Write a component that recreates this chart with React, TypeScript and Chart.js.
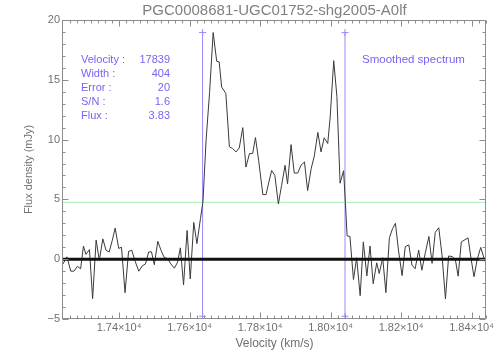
import React, { useEffect, useRef } from 'react';
import { Chart, registerables } from 'chart.js';

Chart.register(...registerables);

const titleText = 'PGC0008681-UGC01752-shg2005-A0lf';
const xTitle = 'Velocity (km/s)';
const yTitle = 'Flux density (mJy)';

const velocity = [
  17241, 17252, 17263, 17272, 17282, 17291, 17299, 17306, 17316, 17325,
  17335, 17344, 17354, 17363, 17372, 17381, 17389, 17399, 17407, 17417,
  17427, 17436, 17446, 17456, 17466, 17475, 17484, 17492, 17500, 17510,
  17519, 17528, 17538, 17547, 17557, 17566, 17574, 17583, 17593, 17602,
  17612, 17621, 17631, 17638, 17647, 17657, 17667, 17677, 17684, 17691,
  17703, 17713, 17722, 17732, 17741, 17751, 17760, 17770, 17779, 17787,
  17796, 17808, 17817, 17825, 17833, 17842, 17852, 17861, 17871, 17878,
  17888, 17897, 17907, 17916, 17926, 17935, 17945, 17954, 17964, 17973,
  17982, 17992, 17999, 18009, 18018, 18027, 18037, 18042, 18047, 18055,
  18065, 18074, 18084, 18093, 18103, 18112, 18121, 18131, 18138, 18148,
  18157, 18167, 18176, 18184, 18193, 18203, 18212, 18222, 18231, 18240,
  18250, 18259, 18269, 18279, 18288, 18297, 18307, 18316, 18326, 18335,
  18345, 18354, 18362, 18371, 18381, 18390, 18399, 18407, 18416, 18426,
  18435, 18441,
];

const flux = [
  -0.4, 0.2, -1.0, -1.0, -0.6, -0.8, 1.1, 0.4, 0.8, -3.3,
  1.6, -0.1, 1.7, 0.75, 0.6, 1.6, 2.6, 0.9, 1.0, -2.8,
  0.65, 0.75, -0.2, -1.0, -0.55, -0.4, 0.6, 0.62, -0.46, 1.5,
  0.75, 0.15, 0.04, -0.4, -0.75, -0.25, 0.95, -2.15, 2.4, -1.65,
  3.07, 1.3, 3.4, 4.8, 10.0, 14.0, 18.95, 16.55, 16.5, 14.4,
  13.85, 9.4, 9.25, 8.97, 9.3, 11.0, 7.7, 8.83, 8.83, 10.17,
  8.27, 5.4, 5.4, 6.45, 7.42, 7.0, 4.62, 6.16, 7.85, 6.3,
  9.58, 7.2, 7.2, 7.85, 8.13, 5.74, 7.57, 8.64, 10.6, 8.97,
  10.15, 9.67, 11.9, 16.6, 13.6, 6.35, 7.4, 4.75, 1.95, 1.9,
  -1.7, 0.12, -3.05, 1.45, -1.4, 1.1, -2.05, -0.3, -1.2, 0.12,
  -2.8, 1.8, 2.56, 3.0, 0.68, -1.37, 1.05, 1.2, -0.5, -0.8,
  0.76, -0.92, 0.55, 1.9, -0.35, 2.24, 2.63, 0.4, -3.33, 0.27,
  0.22, -0.02, -1.42, 1.45, 1.62, 1.79, -0.02, -1.47, -0.02, 0.98,
  0.13, -0.35,
];

const xRange = [17241, 18441];
const yRange = [-5, 20];
const xMajorTicks = [17400, 17600, 17800, 18000, 18200, 18400];
const yMajorTicks = [-5, 0, 5, 10, 15, 20];
const xMinorStep = 20;
const yMinorStep = 1;

const windowEdges = [17637, 18041];
const windowRange = [-4.77, 18.95];
const levelLine = 4.75;

const infoLabels = ['Velocity :', 'Width :', 'Error :', 'S/N :', 'Flux :'];
const infoValues = ['17839', '404', '20', '1.6', '3.83'];
const noteText = 'Smoothed spectrum';

const FONT = '"Liberation Sans", Arial, sans-serif';
const PURPLE_TEXT = '#7b62f4';
const PURPLE_LINE = '#9a88ff';
const GRAY = '#707070';

const idlPlugin = {
  id: 'idlFrame',
  afterDatasetsDraw(chart: any) {
    const { ctx, chartArea: a, scales } = chart;
    const x = scales.x;
    const y = scales.y;
    ctx.save();
    ctx.strokeStyle = '#8c8c8c';
    ctx.lineWidth = 1;
    const L = Math.round(a.left) - 0.5;
    const R = Math.round(a.right) - 0.5;
    const T = Math.round(a.top) + 0.5;
    const B = Math.round(a.bottom) - 0.5;
    ctx.strokeRect(L, T, R - L, B - T);
    ctx.beginPath();
    const xStart = Math.ceil(xRange[0] / xMinorStep) * xMinorStep;
    for (let v = xStart; v <= xRange[1]; v += xMinorStep) {
      const px = Math.round(x.getPixelForValue(v)) + 0.5;
      const len = v % 200 === 0 ? 6 : 3;
      ctx.moveTo(px, B);
      ctx.lineTo(px, B - len);
      ctx.moveTo(px, T);
      ctx.lineTo(px, T + len);
    }
    for (let v = yRange[0]; v <= yRange[1]; v += yMinorStep) {
      const py = Math.round(y.getPixelForValue(v)) + 0.5;
      const len = v % 5 === 0 ? 6 : 3;
      ctx.moveTo(L, py);
      ctx.lineTo(L + len, py);
      ctx.moveTo(R, py);
      ctx.lineTo(R - len, py);
    }
    ctx.stroke();

    ctx.fillStyle = PURPLE_TEXT;
    ctx.font = '11px ' + FONT;
    ctx.textBaseline = 'middle';
    for (let i = 0; i < infoLabels.length; i++) {
      const ty = a.top + 40 + i * 14;
      ctx.textAlign = 'left';
      ctx.fillText(infoLabels[i], a.left + 18, ty);
      ctx.textAlign = 'right';
      ctx.fillText(infoValues[i], a.left + 107, ty);
    }
    ctx.textAlign = 'left';
    ctx.font = '11.5px ' + FONT;
    ctx.fillText(noteText, a.left + 299, a.top + 39.5);
    ctx.restore();
  },
};

export default function App() {
  const ref = useRef<HTMLCanvasElement | null>(null);

  useEffect(() => {
    if (!ref.current) return;
    const spectrum = velocity.map((v, i) => ({ x: v, y: flux[i] }));
    const chart = new Chart(ref.current, {
      type: 'line',
      data: {
        datasets: [
          {
            data: [
              { x: xRange[0], y: 0 },
              { x: xRange[1], y: 0 },
            ],
            borderColor: '#111111',
            borderWidth: 3,
            pointRadius: 0,
          },
          {
            data: spectrum,
            borderColor: '#3a3a3a',
            borderWidth: 1,
            pointRadius: 0,
            tension: 0,
          },
          {
            data: [
              { x: xRange[0], y: levelLine },
              { x: xRange[1], y: levelLine },
            ],
            borderColor: '#a8ecb8',
            borderWidth: 1,
            pointRadius: 0,
          },
          ...windowEdges.map((e) => ({
            data: [
              { x: e, y: windowRange[0] },
              { x: e, y: windowRange[1] },
            ],
            borderColor: PURPLE_LINE,
            borderWidth: 1,
            pointStyle: 'cross' as const,
            pointRadius: 3.5,
            pointBorderColor: PURPLE_LINE,
            pointBorderWidth: 1,
          })),
        ],
      },
      options: {
        responsive: false,
        animation: false,
        devicePixelRatio: 1,
        layout: { padding: { top: 0, right: 18, bottom: 0, left: 0 } },
        plugins: {
          legend: { display: false },
          tooltip: { enabled: false },
          title: {
            display: true,
            text: titleText,
            color: '#808080',
            fullSize: false,
            font: { family: FONT, size: 15, weight: 'normal', lineHeight: 1.1 },
            padding: { top: 2.5, bottom: 1 },
          },
        },
        scales: {
          x: {
            type: 'linear',
            min: xRange[0],
            max: xRange[1],
            grid: { display: false, drawTicks: false },
            border: { display: false },
            afterBuildTicks: (s: any) => {
              s.ticks = xMajorTicks.map((v) => ({ value: v }));
            },
            afterFit: (s: any) => {
              s.height = 41;
            },
            ticks: {
              autoSkip: false,
              maxRotation: 0,
              padding: 2,
              color: GRAY,
              font: { family: FONT, size: 11 },
              callback: (v: any) => (Number(v) / 10000).toFixed(2) + '×10⁴',
            },
            title: {
              display: true,
              text: xTitle,
              color: GRAY,
              font: { family: FONT, size: 12 },
              padding: { top: 0, bottom: 9 },
            },
          },
          y: {
            type: 'linear',
            min: yRange[0],
            max: yRange[1],
            grid: { display: false, drawTicks: false },
            border: { display: false },
            afterBuildTicks: (s: any) => {
              s.ticks = yMajorTicks.map((v) => ({ value: v }));
            },
            afterFit: (s: any) => {
              s.width = 63;
            },
            ticks: {
              autoSkip: false,
              padding: 3,
              color: GRAY,
              font: { family: FONT, size: 11 },
              callback: (v: any) => (Number(v) < 0 ? '−' + Math.abs(Number(v)) : String(v)),
            },
            title: {
              display: true,
              text: yTitle,
              color: GRAY,
              font: { family: FONT, size: 11 },
              padding: { top: 22, bottom: 0 },
            },
          },
        },
      },
      plugins: [idlPlugin],
    });
    return () => chart.destroy();
  }, []);

  return (
    <div style={{ position: 'fixed', left: 0, top: 0, width: 504, height: 360, background: '#ffffff' }}>
      <canvas ref={ref} width={504} height={360} style={{ display: 'block' }} />
    </div>
  );
}
